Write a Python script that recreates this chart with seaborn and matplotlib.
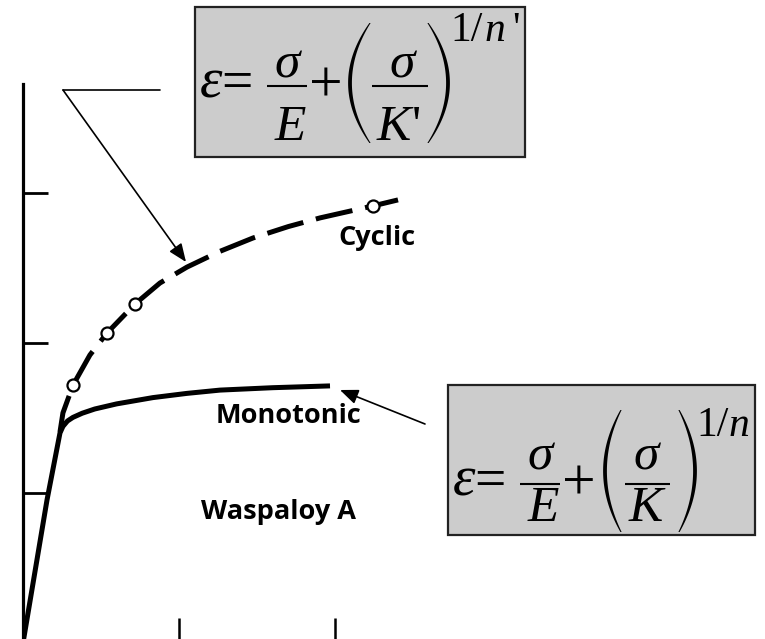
import matplotlib
matplotlib.use("Agg")
import matplotlib.pyplot as plt
from matplotlib.patches import Rectangle, Polygon
import numpy as np
import seaborn as sns
import pandas as pd

# Cyclic and monotonic stress-strain curves for Waspaloy A
mono_strain = [0.0, 0.00154, 0.00237, 0.00256, 0.00285, 0.00320, 0.00380,
               0.00460, 0.00600, 0.00833, 0.01050, 0.01263, 0.01600, 0.01968]
mono_stress = [0, 477, 700, 722, 740, 752, 766,
               780, 797, 818, 832, 843, 851, 857]

cyc_strain = [0.00237, 0.00256, 0.00321, 0.00429, 0.00538, 0.00718, 0.00878,
              0.01051, 0.01260, 0.01474, 0.01700, 0.01904, 0.02244, 0.02404]
cyc_stress = [703, 767, 860, 960, 1033, 1130, 1200,
              1253, 1305, 1350, 1388, 1417, 1457, 1477]

# Measured cyclic points (open circles)
pt_strain = [0.00321, 0.00538, 0.00718, 0.02244]
pt_stress = [860, 1033, 1130, 1457]

x_ticks = [0.01, 0.02]
y_ticks = [500, 1000, 1500]

W, H = 765, 639
fig = plt.figure(figsize=(W / 100, H / 100), dpi=100)
sns.set_style("white")

ax = fig.add_axes([23 / W, 0, (W - 23) / W, (H - 84) / H])
mono = pd.DataFrame({"strain": mono_strain, "stress": mono_stress})
cyc = pd.DataFrame({"strain": cyc_strain, "stress": cyc_stress})
pts = pd.DataFrame({"strain": pt_strain, "stress": pt_stress})

sns.lineplot(data=mono, x="strain", y="stress", sort=False, estimator=None,
             color="black", lw=3.6, ax=ax, solid_capstyle="butt")
sns.lineplot(data=cyc, x="strain", y="stress", sort=False, estimator=None,
             color="black", lw=3.6, ax=ax, linestyle=(0, (7.5, 2.6)))
sns.scatterplot(data=pts, x="strain", y="stress", marker="o", s=75,
                facecolor="white", edgecolor="black", linewidth=1.6,
                ax=ax, zorder=5)

ax.set_xlim(0, (W - 23) / 15600)
ax.set_ylim((643 - 639) * 10 / 3, (643 - 84) * 10 / 3)
ax.set_xticks(x_ticks)
ax.set_yticks(y_ticks)
ax.set_xticklabels([])
ax.set_yticklabels([])
ax.set_xlabel("")
ax.set_ylabel("")
for side in ["top", "right", "bottom"]:
    ax.spines[side].set_visible(False)
ax.spines["left"].set_linewidth(2.3)
ax.spines["left"].set_color("black")
ax.tick_params(axis="y", direction="in", length=18, width=2.0, color="black", left=True)
ax.tick_params(axis="x", direction="in", length=15, width=1.8, color="black", bottom=True)
ax.patch.set_alpha(0)

label_font = dict(family="Open Sans", weight="bold", size=19.5, color="black")
ax.text(0.02269, 1350, "Cyclic", ha="center", va="center", **label_font)
ax.text(0.01705, 757, "Monotonic", ha="center", va="center", **label_font)
ax.text(0.01641, 437, "Waspaloy A", ha="center", va="center", **label_font)

# Overlay in pixel coordinates for the equation boxes and leader arrows
ov = fig.add_axes([0, 0, 1, 1], zorder=10)
ov.set_xlim(0, W)
ov.set_ylim(H, 0)
ov.axis("off")
ov.patch.set_alpha(0)

box_style = dict(facecolor="#cccccc", edgecolor="#222222", linewidth=1.6)
ov.add_patch(Rectangle((195, 7), 330, 150, **box_style))
ov.add_patch(Rectangle((448, 385), 307, 150, **box_style))

SERIF = "Liberation Serif"
EQ_SIZE = 37
SUP_SIZE = 30


def sym(x, y, s, italic=True, size=EQ_SIZE, ha="center"):
    ov.text(x, y, s, ha=ha, va="baseline", fontsize=size, family=SERIF,
            style="italic" if italic else "normal", color="black", zorder=12)


def bar(x0, x1, y):
    ov.plot([x0, x1], [y, y], color="black", lw=1.5, solid_capstyle="butt", zorder=12)


def paren(xmid, cy, h, bulge, left=True, tmid=3.8, tend=1.2):
    s = np.linspace(-1, 1, 80)
    y = cy + s * h / 2
    sign = 1 if left else -1
    xc = xmid + sign * bulge * s ** 2
    t = tend + (tmid - tend) * (1 - s ** 2)
    outer = np.column_stack([xc - t / 2, y])
    inner = np.column_stack([xc + t / 2, y])[::-1]
    ov.add_patch(Polygon(np.vstack([outer, inner]), closed=True,
                         facecolor="black", edgecolor="none", zorder=12))


def equation(dx, rows, cyclic):
    # baselines of the main row, numerators, denominators and exponent,
    # then the fraction-bar level and the bracket centre/height
    base, num, den, sup, bar_y, pc, ph = rows
    sym(211 + dx, base + 1, "\u03b5", size=41)
    sym(237 + dx, base + 2, "=", italic=False, size=40)
    sym(287 + dx, num, "\u03c3")
    bar(267 + dx, 307 + dx, bar_y)
    sym(290 + dx, den, "E")
    sym(326 + dx, base + 4, "+", italic=False, size=43)
    if cyclic:
        paren(350 + dx, pc, ph, 20, left=True)
        sym(402 + dx, num, "\u03c3")
        bar(372 + dx, 428 + dx, bar_y)
        sym(394 + dx, den, "K")
        sym(412 + dx, den, "'", italic=False, ha="left")
        paren(448 + dx, pc, ph, 20, left=False)
        sym(450 + dx, sup, "1/", italic=False, size=SUP_SIZE, ha="left")
        sym(485 + dx, sup, "n", size=SUP_SIZE, ha="left")
        sym(512 + dx, sup, "'", italic=False, size=SUP_SIZE, ha="left")
    else:
        paren(352 + dx, pc, ph, 16, left=True)
        sym(393 + dx, num, "\u03c3")
        bar(372 + dx, 417 + dx, bar_y)
        sym(393 + dx, den, "K")
        paren(442 + dx, pc, ph, 16, left=False)
        sym(443 + dx, sup, "1/", italic=False, size=SUP_SIZE, ha="left")
        sym(476 + dx, sup, "n", size=SUP_SIZE, ha="left")


equation(0, (97, 77, 140, 41, 86, 83, 120), cyclic=True)
equation(253, (495, 469, 521, 436, 484, 471, 122), cyclic=False)

# Leader for the cyclic equation
ov.plot([160, 63], [90, 90], color="black", lw=1.2)
ov.annotate("", xy=(186, 262), xytext=(63, 90),
            arrowprops=dict(arrowstyle="-|>,head_length=1.1,head_width=0.45",
                            color="black", lw=1.2, shrinkA=0, shrinkB=0))
# Leader for the monotonic equation
ov.annotate("", xy=(340, 390), xytext=(425, 424),
            arrowprops=dict(arrowstyle="-|>,head_length=1.1,head_width=0.45",
                            color="black", lw=1.2, shrinkA=0, shrinkB=0))

fig.savefig("out.png", dpi=100, facecolor="white")
